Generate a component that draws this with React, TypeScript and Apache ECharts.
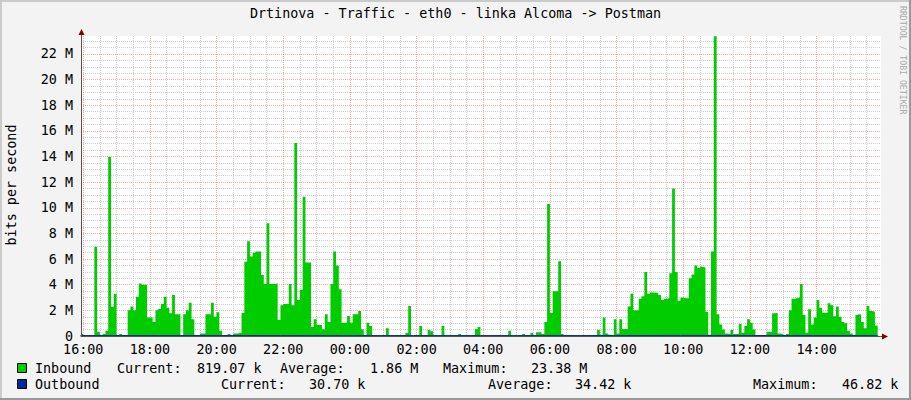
import React, { useEffect, useRef } from "react";
import * as echarts from "echarts";

// ---- time frame (minutes since 00:00 of the first day) ----
const SAMPLE_START = 955; // first 5-minute sample (15:55)
const SAMPLE_STEP = 5;
const VIEW_START = 956; // left edge of the plot (15:56)
const VIEW_END = 2396; // right edge of the plot (+24 h)
const GRID_START = 960; // 16:00
const GRID_END = 2370; // 15:30 next day (last 30-min grid line)
const OUTBOUND_STEP = 60;

// ---- data ----
// Inbound traffic, Mbit/s, one value per 5 minutes
const inboundM: number[] = [
  0.15, 0.08, 0.08, 0.08, 0.08, 6.96, 0.34, 0.08, 0.15, 0.4, 13.97, 2.29,
  3.3, 0.08, 0.15, 0.08, 0.08, 2.0, 2.3, 2.0, 3.06, 4.1, 4.0, 4.0,
  1.45, 1.45, 1.1, 2.0, 2.1, 2.5, 3.06, 2.2, 1.77, 3.2, 1.7, 1.7,
  0.05, 1.7, 2.0, 2.6, 1.3, 0.05, 0.05, 0.2, 0.2, 1.7, 1.7, 2.6,
  1.5, 1.85, 0.4, 0.05, 0.05, 0.15, 0.05, 0.2, 0.2, 0.26, 1.8, 5.8,
  7.4, 6.2, 6.5, 6.6, 6.6, 4.75, 4.05, 8.8, 4.05, 4.05, 4.1, 1.25,
  2.4, 2.5, 2.5, 4.05, 2.4, 15.06, 2.8, 3.6, 10.86, 5.74, 5.74, 0.7,
  1.3, 0.86, 0.86, 0.52, 1.7, 1.1, 4.05, 6.6, 5.5, 3.64, 1.04, 1.04,
  1.56, 1.04, 1.7, 1.7, 1.95, 0.52, 0.08, 1.04, 0.78, 0.05, 0.05, 0.05,
  0.05, 0.05, 0.6, 0.05, 0.05, 0.05, 0.05, 0.05, 0.05, 0.26, 2.34, 0.05,
  0.05, 0.05, 0.78, 0.05, 0.05, 0.47, 0.38, 0.05, 0.05, 0.05, 0.78, 0.05,
  0.05, 0.05, 0.05, 0.05, 0.15, 0.05, 0.05, 0.05, 0.05, 0.05, 0.55, 0.7,
  0.05, 0.05, 0.05, 0.05, 0.05, 0.05, 0.05, 0.05, 0.05, 0.05, 0.4, 0.05,
  0.05, 0.05, 0.05, 0.15, 0.05, 0.05, 0.26, 0.05, 0.3, 0.3, 0.15, 1.1,
  10.3, 1.8, 3.5, 3.5, 5.84, 0.15, 0.05, 0.05, 0.05, 0.05, 0.05, 0.05,
  0.05, 0.05, 0.05, 0.05, 0.05, 0.05, 0.47, 0.1, 1.45, 0.2, 0.1, 0.05,
  1.3, 0.2, 1.3, 0.55, 0.55, 2.3, 3.3, 2.0, 2.0, 2.9, 3.1, 5.0,
  3.3, 3.4, 3.4, 3.35, 3.2, 2.8, 2.9, 2.94, 4.9, 11.5, 5.0, 2.75,
  3.0, 2.95, 2.95, 4.5, 4.8, 5.5, 5.3, 5.4, 5.35, 1.9, 0.1, 6.6,
  23.38, 1.7, 0.9, 0.5, 0.2, 0.15, 0.47, 0.15, 0.15, 0.94, 0.26, 0.78,
  1.3, 1.04, 0.5, 0.08, 0.08, 0.08, 0.08, 0.34, 0.34, 1.77, 1.8, 0.2,
  0.15, 0.08, 0.15, 2.0, 2.9, 2.95, 3.0, 4.05, 1.64, 0.26, 2.08, 0.9,
  1.45, 2.8, 2.2, 1.82, 1.82, 2.55, 2.4, 1.55, 2.3, 1.5, 1.1, 1.0,
  0.4, 0.2, 0.1, 1.64, 1.7, 1.1, 0.6, 2.34, 1.95, 1.9, 0.82,
];

// Outbound traffic, kbit/s, one value per hour
const outboundK: number[] = [
  33.1, 35.0, 36.2, 38.4, 41.0, 37.5, 34.2, 32.0, 31.5, 32.8, 33.0, 31.2,
  30.4, 31.0, 30.5, 32.1, 35.6, 38.9, 46.82, 40.3, 36.8, 34.5, 32.2, 31.0, 30.7,
];

const xTickLabels = ["16:00", "18:00", "20:00", "22:00", "00:00", "02:00", "04:00", "06:00", "08:00", "10:00", "12:00", "14:00"];
const yTickLabels = ["0", "2 M", "4 M", "6 M", "8 M", "10 M", "12 M", "14 M", "16 M", "18 M", "20 M", "22 M"];

const TITLE = "Drtinova - Traffic - eth0 - linka Alcoma -> Postman";
const Y_NAME = "bits per second";
const WATERMARK = "RRDTOOL / TOBI OETIKER";
const legendNames = ["Inbound", "Outbound"];
const statLabels = ["Current:", "Average:", "Maximum:"];
const inboundStats = ["819.07 k", "1.86 M", "23.38 M"];
const outboundStats = ["30.70 k", "34.42 k", "46.82 k"];

// ---- style ----
const FONT = '"DejaVu Sans Mono", monospace';
const FS = 13.4;
const GREEN = "#00CC00";
const BLUE = "#002A97";
const RED = "rgba(255,95,95,0.55)";
const GRAY = "#CDCDCD";
const AXIS = "#555555";

export default function App() {
  const ref = useRef<HTMLDivElement>(null);

  useEffect(() => {
    if (!ref.current) return;
    const chart = echarts.init(ref.current, null, { renderer: "svg" });

    const lastT = SAMPLE_START + inboundM.length * SAMPLE_STEP;
    const inData = inboundM.map((v, i) => [SAMPLE_START + i * SAMPLE_STEP, v]);
    inData.push([lastT, inboundM[inboundM.length - 1]]);
    const outData = outboundK.map((v, i) => [Math.min(SAMPLE_START + i * OUTBOUND_STEP, lastT), v / 1000]);

    const txt = (text: string, x: number, y: number, extra: any = {}) => ({
      type: "text",
      x,
      y,
      z: 100,
      style: {
        text,
        fill: "#000",
        fontFamily: FONT,
        fontSize: FS,
        align: "left",
        verticalAlign: "middle",
        ...extra,
      },
    });

    const row1X = [117, 197, 280, 370, 443, 531];
    const row2X = [221, 309, 488, 575, 753, 842];
    const statsRow = (xs: number[], vals: string[], y: number) => [
      txt(statLabels[0], xs[0], y), txt(vals[0], xs[1], y),
      txt(statLabels[1], xs[2], y), txt(vals[1], xs[3], y),
      txt(statLabels[2], xs[4], y), txt(vals[2], xs[5], y),
    ];

    const option: any = {
      animation: false,
      backgroundColor: "#F3F3F3",
      title: {
        text: TITLE,
        left: "center",
        top: 2,
        textStyle: { fontFamily: FONT, fontSize: FS, fontWeight: "normal", color: "#000" },
      },
      grid: [
        { left: 81, top: 36, width: 800, height: 300, show: true, backgroundColor: "#FFFFFF", borderWidth: 0 },
        { left: 81 + (GRID_START - VIEW_START) / 1.8, top: 36, width: (GRID_END - GRID_START) / 1.8, height: 300, show: false },
      ],
      xAxis: [
        { type: "value", gridIndex: 0, min: VIEW_START, max: VIEW_END, show: false },
        {
          type: "value",
          gridIndex: 1,
          min: GRID_START,
          max: GRID_END,
          interval: 30,
          z: 1,
          axisLine: { show: false },
          axisTick: { show: false },
          axisLabel: {
            margin: 8,
            lineHeight: 11,
            color: "#000",
            fontFamily: FONT,
            fontSize: FS,
            formatter: (v: number) => {
              const k = (v - GRID_START) / 120;
              return Number.isInteger(k) && xTickLabels[k] ? xTickLabels[k] : "";
            },
          },
          splitLine: { show: true, lineStyle: { color: [RED, GRAY, GRAY, GRAY], type: [1, 1], width: 1 } },
        },
        {
          type: "value",
          gridIndex: 0,
          min: VIEW_START,
          max: VIEW_END,
          position: "bottom",
          z: 5,
          axisLine: { show: true, onZero: false, lineStyle: { color: AXIS, width: 1 } },
          axisTick: { show: false },
          axisLabel: { show: false },
          splitLine: { show: false },
        },
      ],
      yAxis: [
        {
          type: "value",
          gridIndex: 0,
          min: 0,
          max: 23.4,
          interval: 0.5,
          position: "left",
          z: 1,
          axisLine: { show: false },
          axisTick: { show: false },
          axisLabel: {
            margin: 8,
            lineHeight: 11,
            color: "#000",
            fontFamily: FONT,
            fontSize: FS,
            formatter: (v: number) => {
              const k = v / 2;
              return Number.isInteger(k) && yTickLabels[k] ? yTickLabels[k] : "";
            },
          },
          splitLine: {
            show: true,
            showMaxLine: false,
            lineStyle: { color: [RED, GRAY, GRAY, GRAY], type: [1, 1], width: 1 },
          },
        },
        { type: "value", gridIndex: 1, min: 0, max: 1, show: false },
        {
          type: "value",
          gridIndex: 0,
          min: 0,
          max: 23.4,
          position: "left",
          offset: 0,
          z: 5,
          axisLine: { show: true, onZero: false, lineStyle: { color: AXIS, width: 1 } },
          axisTick: { show: false },
          axisLabel: { show: false },
          splitLine: { show: false },
        },
      ],
      series: [
        {
          type: "line",
          name: legendNames[0],
          xAxisIndex: 0,
          yAxisIndex: 0,
          data: inData,
          step: "end",
          symbol: "none",
          z: 2,
          lineStyle: { width: 0, color: GREEN },
          itemStyle: { color: GREEN },
          areaStyle: { color: GREEN, opacity: 1 },
        },
        {
          type: "line",
          name: legendNames[1],
          xAxisIndex: 0,
          yAxisIndex: 0,
          data: outData,
          symbol: "none",
          z: 3,
          lineStyle: { width: 1, color: BLUE },
          itemStyle: { color: BLUE },
        },
      ],
      graphic: [
        // frame shading
        { type: "line", z: 100, shape: { x1: 0, y1: 1, x2: 911, y2: 1 }, style: { stroke: "#CBCBCB", lineWidth: 2 } },
        { type: "line", z: 100, shape: { x1: 1, y1: 0, x2: 1, y2: 400 }, style: { stroke: "#CBCBCB", lineWidth: 2 } },
        { type: "line", z: 100, shape: { x1: 0, y1: 399, x2: 911, y2: 399 }, style: { stroke: "#999999", lineWidth: 2 } },
        { type: "line", z: 100, shape: { x1: 910, y1: 0, x2: 910, y2: 400 }, style: { stroke: "#999999", lineWidth: 2 } },
        // axis extensions and arrows
        { type: "line", z: 100, shape: { x1: 81.5, y1: 36, x2: 81.5, y2: 32 }, style: { stroke: AXIS, lineWidth: 1 } },
        { type: "polygon", z: 100, shape: { points: [[78.5, 35], [84.5, 35], [81.5, 29]] }, style: { fill: "#7F0000" } },
        { type: "line", z: 100, shape: { x1: 881, y1: 336.5, x2: 884, y2: 336.5 }, style: { stroke: AXIS, lineWidth: 1 } },
        { type: "polygon", z: 100, shape: { points: [[882, 333.5], [882, 339.5], [888, 336.5]] }, style: { fill: "#7F0000" } },
        // y axis title
        { ...txt(Y_NAME, 11, 185, { align: "center" }), rotation: Math.PI / 2 },
        // watermark
        { ...txt(WATERMARK, 903, 6, { fontSize: 8.2, fill: "#AAAAAA" }), rotation: -Math.PI / 2 },
        // legend
        { type: "rect", z: 100, shape: { x: 17.5, y: 363.5, width: 9, height: 9 }, style: { fill: GREEN, stroke: "#000", lineWidth: 1 } },
        { type: "rect", z: 100, shape: { x: 17.5, y: 379.5, width: 9, height: 9 }, style: { fill: BLUE, stroke: "#000", lineWidth: 1 } },
        txt(legendNames[0], 35, 368),
        txt(legendNames[1], 35, 384),
        ...statsRow(row1X, inboundStats, 368),
        ...statsRow(row2X, outboundStats, 384),
      ],
    };

    chart.setOption(option);
    return () => chart.dispose();
  }, []);

  return <div ref={ref} style={{ position: "absolute", left: 0, top: 0, width: 911, height: 400 }} />;
}
